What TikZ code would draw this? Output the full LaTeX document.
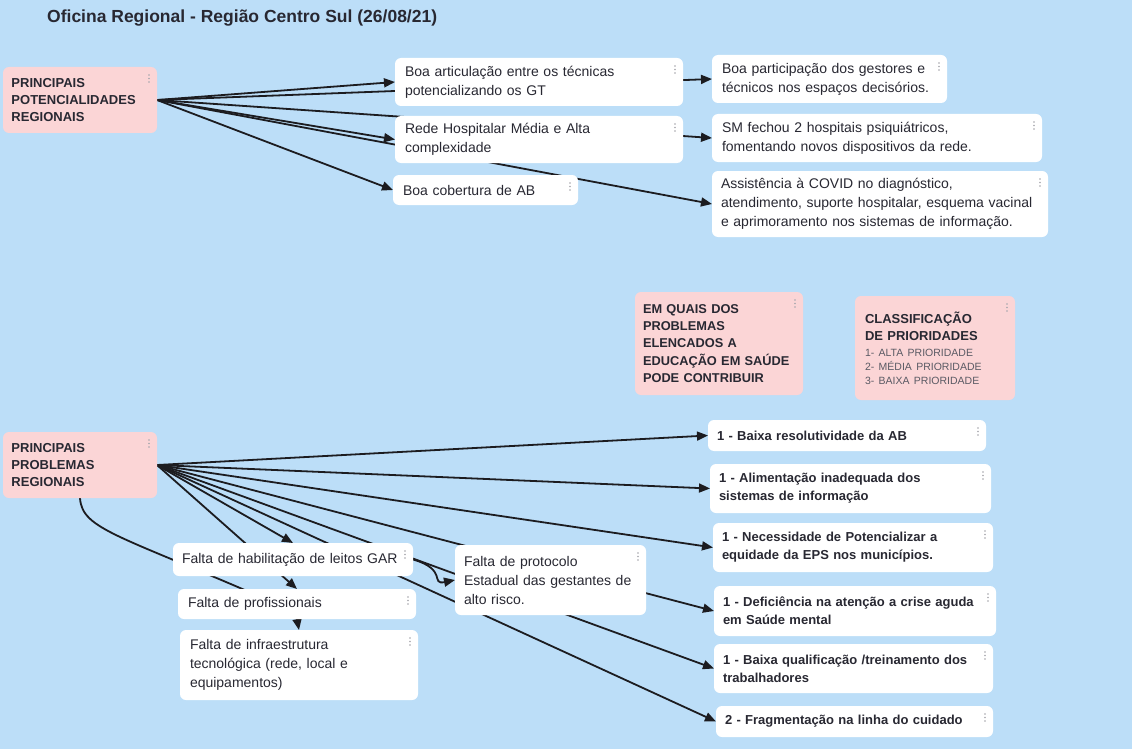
\documentclass[tikz,border=0pt]{standalone}
\usepackage{fontspec}
\setmainfont{Liberation Sans}
\usetikzlibrary{arrows.meta}
\definecolor{bgblue}{RGB}{188,222,248}
\definecolor{pinkbox}{RGB}{251,213,214}
\definecolor{txt}{RGB}{40,40,50}
\definecolor{lighttxt}{RGB}{90,90,100}
\definecolor{dotgray}{RGB}{165,165,172}
\definecolor{edgec}{RGB}{28,28,32}
\pgfdeclarelayer{bglayer}
\pgfdeclarelayer{edgelayer}
\pgfsetlayers{bglayer,edgelayer,main}
\tikzset{
  card/.style={draw=none, fill=white, rounded corners=6pt, anchor=north west, align=left,
    inner xsep=10pt, inner ysep=0pt, outer sep=0pt, text=txt, font=\fontsize{14}{19}\selectfont},
  pinkcard/.style={card, fill=pinkbox, inner xsep=8.5pt, font=\bfseries\fontsize{13}{17}\selectfont},
  rcard/.style={card, inner xsep=9pt, font=\bfseries\fontsize{13}{18}\selectfont},
  link/.style={draw=edgec, line width=1.8pt, -{Triangle[length=11pt,width=9pt]}},
  plainlink/.style={draw=edgec, line width=1.8pt},
}
\newcommand{\kebab}[1]{%
  \fill[dotgray] ([xshift=-8pt,yshift=-8pt]#1.north east) circle (0.9pt)
    ([xshift=-8pt,yshift=-11.5pt]#1.north east) circle (0.9pt)
    ([xshift=-8pt,yshift=-15pt]#1.north east) circle (0.9pt);}
\begin{document}
\begin{tikzpicture}[x=1pt,y=-1pt]
\begin{pgfonlayer}{bglayer}
  \fill[bgblue] (0,0) rectangle (1132,749);
\end{pgfonlayer}
\useasboundingbox (0,0) rectangle (1132,749);

% title
\node[anchor=west, inner sep=0pt, text=txt, font=\bfseries\fontsize{17.5}{21}\selectfont] (title) at (47,18)
  {Oficina Regional - Região Centro Sul (26/08/21)};

% top part
\node[pinkcard, minimum width=154pt, minimum height=66pt, text width=137pt] (Pot) at (3,67)
  {PRINCIPAIS\\POTENCIALIDADES\\REGIONAIS};
\node[card, minimum width=288pt, minimum height=48pt, text width=268pt] (Art) at (395,58)
  {Boa articulação entre os técnicas\\potencializando os GT};
\node[card, minimum width=235pt, minimum height=48pt, text width=215pt] (Part) at (712,55)
  {Boa participação dos gestores e\\técnicos nos espaços decisórios.};
\node[card, minimum width=288pt, minimum height=47pt, text width=268pt] (Rede) at (395,116)
  {Rede Hospitalar Média e Alta\\complexidade};
\node[card, minimum width=330pt, minimum height=48pt, text width=310pt] (SM) at (712,114)
  {SM fechou 2 hospitais psiquiátricos,\\fomentando novos dispositivos da rede.};
\node[card, minimum width=185pt, minimum height=30pt, text width=165pt] (Cob) at (393,175)
  {Boa cobertura de AB};
\node[card, inner xsep=9pt, minimum width=336pt, minimum height=66pt, text width=318pt] (Assist) at (712,171)
  {Assistência à COVID no diagnóstico,\\atendimento, suporte hospitalar, esquema vacinal\\e aprimoramento nos sistemas de informação.};

% middle notes
\node[pinkcard, inner xsep=8pt, minimum width=168pt, minimum height=103pt, text width=152pt,
  font=\bfseries\fontsize{12.8}{17.3}\selectfont] (EmQ) at (635,292)
  {EM QUAIS DOS\\PROBLEMAS\\ELENCADOS A\\EDUCAÇÃO EM SAÚDE\\PODE CONTRIBUIR};
\node[pinkcard, inner xsep=10pt, minimum width=160pt, minimum height=104pt, text width=140pt] (Class) at (855,296)
  {{\fontsize{13}{17}\selectfont CLASSIFICAÇÃO\\DE PRIORIDADES\par}\vspace{2pt}%
   {\mdseries\color{lighttxt}\fontsize{10.5}{14}\selectfont 1- ALTA PRIORIDADE\\2- MÉDIA PRIORIDADE\\3- BAIXA PRIORIDADE\par}};

% bottom part
\node[pinkcard, minimum width=154pt, minimum height=66pt, text width=137pt] (Prob) at (3,432)
  {PRINCIPAIS\\PROBLEMAS\\REGIONAIS};
\node[rcard, minimum width=278pt, minimum height=31pt, text width=260pt] (R1) at (708,420)
  {1 - Baixa resolutividade da AB};
\node[rcard, minimum width=281pt, minimum height=49pt, text width=263pt] (R2) at (710,464)
  {1 - Alimentação inadequada dos\\sistemas de informação};
\node[rcard, minimum width=280pt, minimum height=49pt, text width=262pt] (R3) at (713,523)
  {1 - Necessidade de Potencializar a\\equidade da EPS nos municípios.};
\node[rcard, minimum width=282pt, minimum height=50pt, text width=264pt] (R4) at (714,586)
  {1 - Deficiência na atenção a crise aguda\\em Saúde mental};
\node[rcard, minimum width=279pt, minimum height=49pt, text width=261pt] (R5) at (714,644)
  {1 - Baixa qualificação /treinamento dos\\trabalhadores};
\node[rcard, minimum width=277pt, minimum height=31pt, text width=259pt] (R6) at (716,706)
  {2 - Fragmentação na linha do cuidado};

\node[card, minimum width=240pt, minimum height=33pt, text width=222pt, inner xsep=9pt] (L1) at (173,543)
  {Falta de habilitação de leitos GAR};
\node[card, minimum width=238pt, minimum height=30pt, text width=218pt] (L2) at (178,589)
  {Falta de profissionais};
\node[card, minimum width=238pt, minimum height=70pt, text width=218pt] (L3) at (180,630)
  {Falta de infraestrutura\\tecnológica (rede, local e\\equipamentos)};
\node[card, minimum width=191pt, minimum height=70pt, text width=173pt, inner xsep=9pt] (M) at (455,545)
  {Falta de protocolo\\Estadual das gestantes de\\alto risco.};

% menu dots
\foreach \n in {Pot,Art,Part,Rede,SM,Cob,Assist,EmQ,Class,Prob,R1,R2,R3,R4,R5,R6,L1,L2,L3,M} {\kebab{\n}}

% connectors
\begin{pgfonlayer}{edgelayer}
  \draw[link] (Pot.east) -- (Art.west);
  \draw[link] (Pot.east) -- (Part.west);
  \draw[link] (Pot.east) -- (Rede.west);
  \draw[link] (Pot.east) -- (SM.west);
  \draw[link] (Pot.east) -- (Cob.west);
  \draw[link] (Pot.east) -- (Assist.west);

  \draw[link] (Prob.east) -- (R1.west);
  \draw[link] (Prob.east) -- (R2.west);
  \draw[link] (Prob.east) -- (R3.west);
  \draw[link] (Prob.east) -- (R4.west);
  \draw[link] (Prob.east) -- (R5.west);
  \draw[link] (Prob.east) -- (R6.west);
  \draw[link] (Prob.east) -- (L1.north);
  \draw[link] (Prob.east) -- (L2.north);
  \draw[link] (L2.south) -- (L3.north);
  \draw[link] (L1.east) .. controls +(35,10) and +(-25,5) .. (M.west);
  \draw[plainlink] (Prob.south) .. controls (82,530) and (120,535) .. ([xshift=-20pt]L2.center);
\end{pgfonlayer}
\end{tikzpicture}
\end{document}
